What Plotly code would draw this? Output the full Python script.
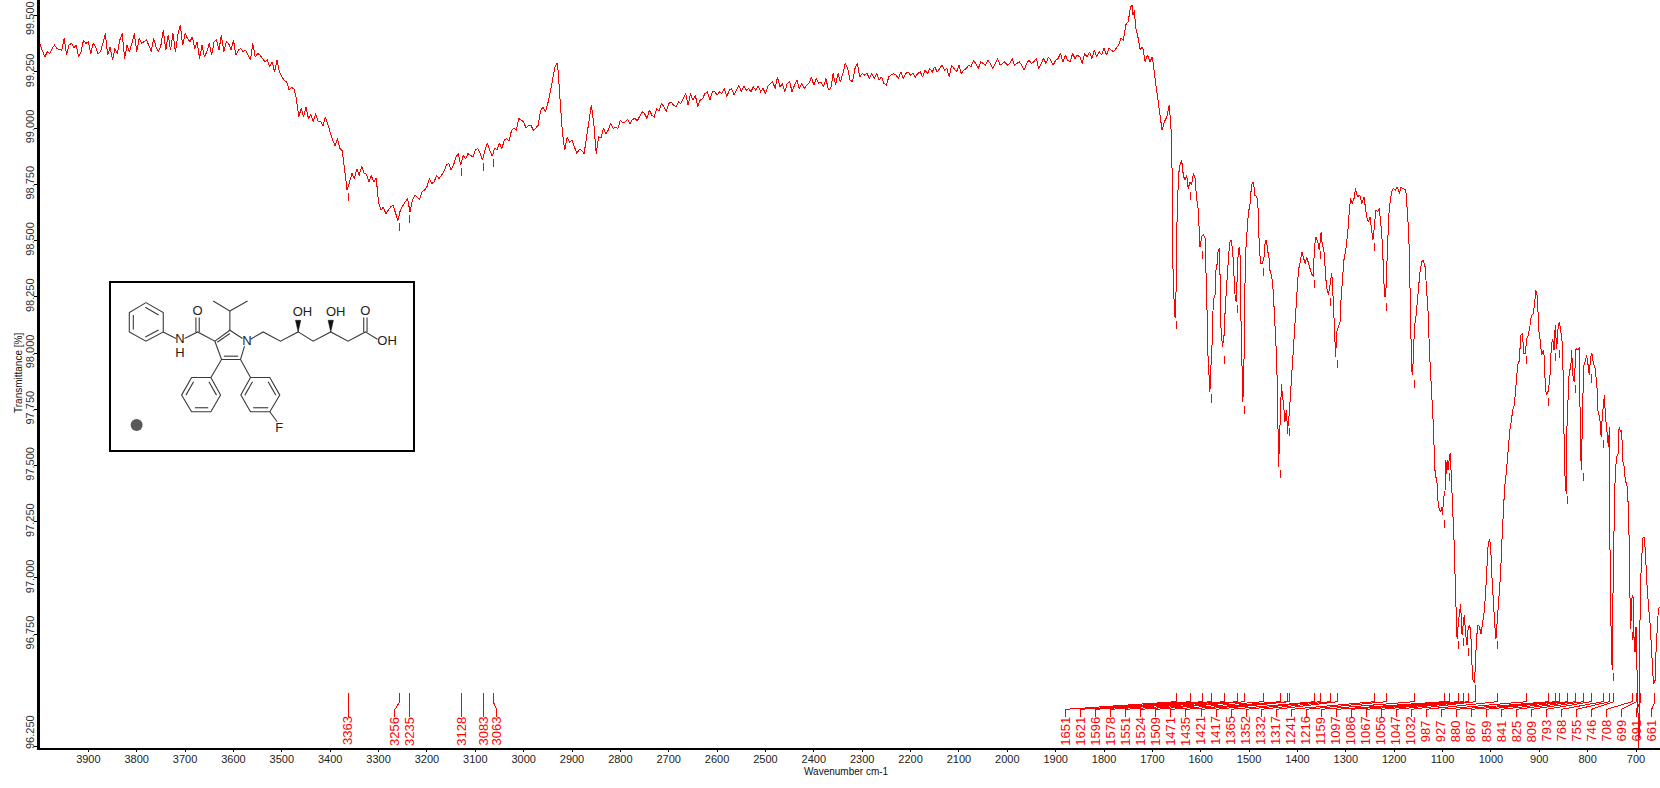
import plotly.graph_objects as go

# ---- spectrum, regular part: 4000 -> 1805 cm-1, every 5 cm-1 ----
t_regular = [
99.372,99.347,99.317,99.340,99.332,99.354,99.369,99.354,99.350,99.347,99.399,99.325,99.369,99.377,99.359,99.369,99.317,99.340,99.392,99.377,
99.384,99.332,99.377,99.362,99.332,99.340,99.377,99.421,99.325,99.362,99.303,99.354,99.332,99.392,99.421,99.310,99.369,99.340,99.377,99.421,
99.340,99.399,99.377,99.384,99.392,99.369,99.340,99.399,99.362,99.340,99.369,99.436,99.347,99.414,99.347,99.421,99.340,99.414,99.458,99.369,
99.421,99.399,99.384,99.406,99.354,99.384,99.310,99.369,99.317,99.340,99.377,99.325,99.384,99.392,99.347,99.414,99.340,99.384,99.377,99.347,
99.392,99.325,99.347,99.354,99.340,99.347,99.325,99.303,99.377,99.317,99.332,99.325,99.310,99.295,99.303,99.273,99.295,99.251,99.303,99.251,
99.228,99.213,99.206,99.170,99.181,99.176,99.132,99.050,99.088,99.050,99.095,99.043,99.060,99.030,99.065,99.030,99.030,99.010,99.050,99.020,
98.980,98.950,98.920,98.955,98.910,98.900,98.800,98.724,98.760,98.800,98.775,98.820,98.790,98.830,98.800,98.795,98.760,98.790,98.760,98.780,
98.672,98.635,98.650,98.620,98.635,98.650,98.657,98.620,98.590,98.635,98.657,98.672,98.687,98.628,98.680,98.702,98.694,98.684,98.717,98.724,
98.739,98.776,98.754,98.761,98.791,98.776,98.791,98.806,98.835,98.843,98.813,98.835,98.872,98.887,98.835,98.880,98.865,98.887,98.880,98.872,
98.902,98.910,98.887,98.858,98.902,98.932,98.902,98.875,98.910,98.905,98.932,98.910,98.947,98.954,98.944,98.991,99.000,98.991,99.043,99.036,
99.028,99.000,99.013,99.013,98.991,99.000,99.013,99.080,99.092,99.073,99.110,99.162,99.221,99.273,99.291,99.154,98.984,98.902,98.961,98.939,
98.947,98.917,98.887,98.906,98.902,98.887,98.961,99.013,99.102,99.021,98.887,98.961,98.958,99.000,98.976,98.991,99.021,99.000,99.003,99.000,
99.036,99.024,99.028,99.039,99.021,99.039,99.043,99.033,99.050,99.073,99.065,99.043,99.080,99.058,99.050,99.088,99.077,99.110,99.095,99.073,
99.110,99.117,99.102,99.095,99.117,99.110,99.132,99.154,99.102,99.154,99.125,99.147,99.095,99.125,99.132,99.154,99.162,99.125,99.162,99.162,
99.147,99.162,99.154,99.176,99.139,99.169,99.176,99.147,99.169,99.191,99.162,99.187,99.169,99.176,99.162,99.184,99.169,99.187,99.162,99.176,
99.154,99.187,99.199,99.206,99.176,99.228,99.184,99.199,99.162,99.199,99.206,99.162,99.191,99.214,99.176,99.199,99.176,99.191,99.199,99.228,
99.191,99.221,99.199,99.206,99.184,99.221,99.172,99.176,99.243,99.191,99.243,99.206,99.243,99.288,99.265,99.214,99.206,99.265,99.288,99.228,
99.243,99.236,99.243,99.221,99.243,99.221,99.243,99.214,99.228,99.199,99.191,99.228,99.236,99.243,99.236,99.221,99.250,99.221,99.243,99.250,
99.236,99.243,99.228,99.243,99.250,99.228,99.258,99.243,99.265,99.250,99.273,99.250,99.265,99.280,99.258,99.265,99.228,99.280,99.265,99.250,
99.280,99.243,99.258,99.265,99.280,99.273,99.300,99.288,99.265,99.295,99.288,99.280,99.302,99.288,99.265,99.288,99.310,99.280,99.288,99.295,
99.280,99.288,99.310,99.280,99.288,99.295,99.280,99.258,99.288,99.302,99.288,99.295,99.310,99.265,99.288,99.310,99.288,99.317,99.302,99.280,
99.302,99.310,99.332,99.295,99.325,99.302,99.295,99.332,99.310,99.325,99.317,99.288,99.332,99.317,99.340,99.310,99.347,99.317,99.340,99.325,
]

# ---- spectrum, band part: 1800 -> 650 cm-1 ----
wn_bands = [1800,1795,1790,1785,1780,1775,1770,1765,1760,1755,1750,1745,1741,1740,1737,1735,1730,1725,1720,1715,1710,1705,1700,1695,1690,1685,1680,1675,1670,1665,1660,1657,1655,1653,1651,1650,1646,1643,1639.5,1636,1633,1629,1626,1622,1619,1615,1612,1608.5,1605,1601.6,1598,1595,1591,1589,1587,1585,1583,1581,1579,1577,1574,1570.5,1568.5,1566,1564,1561.6,1560,1558,1555,1552,1549,1546.4,1544,1542,1539.5,1537,1534,1531,1528.5,1526,1524,1521.6,1519,1517.5,1515,1513,1511,1509,1506.4,1504,1501.6,1498,1495,1491,1488,1484,1481,1479,1476,1473,1469,1466.5,1464,1462,1459,1457,1453,1450,1448,1445,1443,1441,1439,1437,1435,1433,1431,1429,1426,1423,1421,1419,1417,1414,1412,1410,1407,1405,1403,1401,1398,1395,1391,1388,1384,1381,1377.5,1374,1371,1367,1365,1362,1358,1355,1351,1349,1345,1342,1340,1336,1333,1329,1326,1324,1321,1319,1315.5,1312,1310,1307,1304,1300,1298,1295,1293,1290,1287,1283,1280,1276,1271,1267,1262.4,1260,1257,1253.5,1250,1246.6,1244,1241,1238,1234,1231,1228,1225,1222.4,1220,1217.6,1215.6,1213.5,1211.4,1208,1205,1202,1197,1194,1189,1186,1181,1176,1173,1170,1168,1166,1164,1162,1160,1158,1155,1152,1149.4,1147,1143,1140,1136,1133,1130,1127,1125,1122,1119,1117,1115,1112,1110,1107,1104,1102,1100,1098,1095,1093,1091.5,1089,1088,1086,1084,1081,1078,1076,1073.6,1072,1070,1067,1064,1062.5,1060.5,1059,1057,1055,1052,1049.5,1047,1045,1042,1040,1038,1034,1032,1029.5,1027,1024,1020.5,1017,1014,1011.5,1009,1006,1003,1000.5,998,995,992,989.5,987,984,980,977,974,971.6,968,965,961,958,955,951.6,947.4,944.7,941,938.5,935,931.6,929,926,923,920,916.4,912,909.5,907,904,901,898.5,895,892,889.5,887.5,885,881,878,875,872,869.5,867,864,861,858.5,855.8,853.7,851.6,850,848,846,844,842.6,840,838,835,833,831,828,826,824,820,817,815,813,810,808,805,802,798.5,796.5,794,791,788,785,781,778.5,775,772,770,767.5,765.5,763,760,757,755,754,751,749,747,745,743,740,737,735,732,729.6,727.5,725,722,718,715,713,711,708,706,704,702,700,697,694,691.6,689.5,686,683,680.5,678,674,671,667.4,664,660.5,658.5,653.7,650]
t_bands = [99.355,99.325,99.355,99.348,99.340,99.355,99.370,99.400,99.392,99.459,99.474,99.540,99.548,99.503,99.525,99.451,99.407,99.348,99.362,99.296,99.325,99.296,99.318,99.229,99.155,99.066,98.992,99.029,99.051,99.103,98.950,98.309,98.200,98.154,98.280,98.517,98.791,98.836,98.858,98.791,98.769,98.791,98.732,98.762,98.748,98.799,98.784,98.688,98.636,98.472,98.517,98.527,98.510,98.376,98.191,97.990,97.864,97.827,97.939,98.013,98.235,98.257,98.369,98.398,98.458,98.465,98.339,98.102,98.028,98.072,98.213,98.302,98.421,98.443,98.495,98.502,98.458,98.339,98.235,98.228,98.398,98.465,98.472,98.220,97.946,97.783,97.879,98.272,98.472,98.569,98.621,98.665,98.747,98.762,98.702,98.695,98.636,98.472,98.398,98.398,98.428,98.502,98.502,98.458,98.428,98.369,98.339,98.272,98.198,98.094,97.976,97.775,97.494,97.627,97.798,97.864,97.805,97.783,97.694,97.746,97.679,97.679,97.731,97.827,97.909,97.998,98.080,98.146,98.198,98.280,98.369,98.398,98.450,98.428,98.398,98.428,98.398,98.369,98.354,98.339,98.472,98.517,98.495,98.458,98.539,98.487,98.450,98.354,98.295,98.258,98.295,98.354,98.235,98.102,97.983,98.094,98.117,98.139,98.235,98.354,98.413,98.458,98.495,98.561,98.628,98.688,98.665,98.688,98.732,98.695,98.702,98.665,98.695,98.650,98.606,98.584,98.606,98.547,98.502,98.561,98.636,98.628,98.643,98.584,98.502,98.383,98.250,98.250,98.376,98.495,98.606,98.680,98.717,98.732,98.725,98.739,98.710,98.736,98.732,98.725,98.636,98.539,98.369,98.124,97.931,97.901,98.005,98.117,98.161,98.250,98.317,98.354,98.406,98.413,98.383,98.294,98.183,98.005,97.931,97.842,97.679,97.545,97.449,97.449,97.353,97.308,97.293,97.316,97.279,97.353,97.382,97.523,97.464,97.523,97.479,97.538,97.556,97.405,97.271,97.152,96.967,96.811,96.730,96.811,96.871,96.885,96.760,96.745,96.811,96.833,96.745,96.700,96.782,96.789,96.774,96.618,96.552,96.533,96.648,96.737,96.789,96.785,96.752,96.797,96.848,96.915,97.056,97.138,97.175,97.138,97.011,96.878,96.789,96.730,96.797,96.900,97.019,97.175,97.286,97.405,97.471,97.553,97.657,97.694,97.746,97.768,97.857,97.946,97.968,98.079,98.087,97.998,97.998,98.064,98.079,98.109,98.168,98.176,98.228,98.280,98.250,98.102,98.064,97.990,98.013,97.983,97.842,97.812,97.835,97.894,98.035,98.064,98.013,98.124,98.020,98.116,98.139,98.109,98.072,98.020,97.760,97.523,97.405,97.375,97.686,97.820,97.924,97.931,98.013,97.909,97.872,97.938,98.020,98.013,98.027,97.590,97.479,97.790,97.946,97.961,97.990,97.938,97.901,97.983,97.998,97.953,97.938,97.864,97.738,97.716,97.627,97.709,97.768,97.812,97.716,97.657,97.582,97.671,97.167,96.670,96.589,97.056,97.316,97.464,97.538,97.553,97.671,97.649,97.657,97.523,97.501,97.434,97.405,97.271,96.974,96.774,96.923,96.916,96.722,96.670,96.782,96.485,96.230,96.842,97.035,97.175,97.183,97.116,96.990,96.871,96.797,96.664,96.530,96.545,96.679,96.864,96.871]

# ---- picked peaks ----
peak_wn = [3363,3256,3235,3128,3083,3063,1651,1621,1596,1578,1551,1524,1509,1471,1435,1421,1417,1365,1352,1332,1317,1241,1216,1159,1097,1086,1067,1056,1047,1032,987,927,880,867,859,841,825,809,793,768,755,746,708,699,691,661]
peak_t = [98.724,98.590,98.628,98.835,98.858,98.875,98.154,98.729,98.465,97.828,97.998,98.228,97.777,98.391,97.494,97.690,97.680,98.339,98.466,98.258,97.983,98.502,98.235,97.894,97.272,97.479,96.733,96.744,96.700,96.538,96.733,98.000,97.813,98.013,98.026,97.375,97.871,97.479,97.917,97.626,97.660,96.589,96.774,None,None,None]
left_label_wn = [3363,3266,3235,3128,3083,3056]

x_ticks = list(range(3900, 600, -100))
y_ticks = [99.5,99.25,99.0,98.75,98.5,98.25,98.0,97.75,97.5,97.25,97.0,96.75,96.25]

RED = "#ff0000"
FONT = "Liberation Sans"
W, H = 1660, 788
L, B = 40, 40
X_RANGE = [4000, 650.4]
Y_RANGE = [96.244, 99.57]
LABEL_START, LABEL_STEP = 1879, 31.06   # fan-out slots of the right-hand label group
T_TOP, T_BEND1, T_BEND2, T_LAB, T_TEXT = 96.487, 96.450, 96.416, 96.381, 96.320

wn_regular = list(range(4000, 4000 - 5 * len(t_regular), -5))
fig = go.Figure()
fig.add_trace(go.Scatter(x=wn_regular + wn_bands, y=t_regular + t_bands, mode="lines",
                         line=dict(color=RED, width=1), hoverinfo="skip", showlegend=False))

# short pick marks under each peak
dx, dy = [], []
for w, t in zip(peak_wn, peak_t):
    if t is not None:
        dx += [w, w, None]
        dy += [t - 0.012, t - 0.048, None]
fig.add_trace(go.Scatter(x=dx, y=dy, mode="lines", line=dict(color=RED, width=1),
                         hoverinfo="skip", showlegend=False))

# connectors and rotated labels
annotations = []
cx, cy = [], []
for i, w in enumerate(peak_wn):
    lab = left_label_wn[i] if i < len(left_label_wn) else LABEL_START - (i - len(left_label_wn)) * LABEL_STEP
    cx += [w, w, lab, lab, None]
    cy += [T_TOP, T_BEND1, T_BEND2, T_LAB, None]
    annotations.append(dict(x=lab, y=T_TEXT, text=str(w), textangle=-90, showarrow=False,
                            xanchor="center", yanchor="middle",
                            font=dict(family=FONT, size=13, color=RED)))
fig.add_trace(go.Scatter(x=cx, y=cy, mode="lines", line=dict(color=RED, width=1),
                         hoverinfo="skip", showlegend=False))

# ---- inset: structure drawing ----
bonds = [
 [(138,97),(190,127),(190,185),(138,213),(88,185),(88,127),(138,97)],
 [(136,111),(176,134)], [(176,179),(136,200)], [(100,178),(100,134)],
 [(190,185),(228,205)], [(254,205),(293,185),(345,213),(390,180),(428,205)],
 [(288,185),(288,142)], [(298,185),(298,142)],
 [(352,216),(390,190)], [(345,213),(365,268),(422,268),(434,228)], [(372,258),(415,258)],
 [(390,180),(390,122),(340,92)], [(390,122),(443,92)],
 [(452,207),(490,185),(542,213),(595,185),(640,213),(693,185),(745,213),(797,185),(833,207)],
 [(792,185),(792,142)], [(802,185),(802,142)],
 [(365,268),(333,322)],
 [(333,322),(275,322),(245,375),(275,425),(333,425),(362,375),(333,322)],
 [(258,375),(281,335)], [(285,413),(325,413)], [(350,375),(327,335)],
 [(422,268),(452,322)],
 [(452,322),(510,322),(540,375),(510,425),(452,425),(423,375),(452,322)],
 [(435,375),(458,335)], [(505,335),(528,375)], [(460,413),(505,413)],
 [(510,425),(532,455)],
]
wedges = [[(595,185),(587,150),(603,150),(595,185)], [(693,185),(685,150),(701,150),(693,185)]]
atoms = [("N",240,210),("H",240,252),("O",293,125),("N",441,215),("OH",608,127),("OH",708,127),
         ("O",797,125),("OH",862,215),("F",538,477)]

bx, by = [], []
for b in bonds:
    bx += [p[0] for p in b] + [None]
    by += [p[1] for p in b] + [None]
fig.add_trace(go.Scatter(x=bx, y=by, mode="lines", line=dict(color="#3a3a3a", width=1.1),
                         xaxis="x2", yaxis="y2", hoverinfo="skip", showlegend=False))
for wd in wedges:
    fig.add_trace(go.Scatter(x=[p[0] for p in wd], y=[p[1] for p in wd], mode="lines", fill="toself",
                             fillcolor="#111111", line=dict(color="#111111", width=0.5),
                             xaxis="x2", yaxis="y2", hoverinfo="skip", showlegend=False))
fig.add_trace(go.Scatter(x=[a[1] for a in atoms], y=[a[2] for a in atoms], text=[a[0] for a in atoms],
                         mode="text", textfont=dict(family=FONT, size=13, color="#222222"),
                         xaxis="x2", yaxis="y2", hoverinfo="skip", showlegend=False))
fig.add_trace(go.Scatter(x=[110], y=[465], mode="markers",
                         marker=dict(size=12, color="#5a5a5a"),
                         xaxis="x2", yaxis="y2", hoverinfo="skip", showlegend=False))

def px_x(p):
    return (p - L) / (W - L)

def px_y(p):
    return (H - B - p) / (H - B)

# the two end labels of the frame height are placed by hand so they stay inside it
for txt, py in (("99.500", 18), ("96.250", 732)):
    annotations.append(dict(xref="paper", yref="paper", x=px_x(30), y=px_y(py), text=txt, textangle=-90,
                            showarrow=False, xanchor="center", yanchor="middle",
                            font=dict(family=FONT, size=11, color="#333333")))
annotations.append(dict(xref="paper", yref="paper", x=px_x(846), y=px_y(771), text="Wavenumber cm-1",
                        showarrow=False, xanchor="center", yanchor="middle",
                        font=dict(family=FONT, size=10, color="#111111")))
annotations.append(dict(xref="paper", yref="paper", x=px_x(18), y=px_y(373), text="Transmittance [%]",
                        textangle=-90, showarrow=False, xanchor="center", yanchor="middle",
                        font=dict(family=FONT, size=10, color="#111111")))

fig.update_layout(
    width=W, height=H, autosize=False, margin=dict(l=L, r=0, t=0, b=B),
    paper_bgcolor="white", plot_bgcolor="white", showlegend=False,
    annotations=annotations,
    shapes=[dict(type="rect", xref="paper", yref="paper", x0=px_x(110), x1=px_x(414), y0=px_y(451), y1=px_y(282),
                 line=dict(color="black", width=2))],
    xaxis=dict(range=X_RANGE, tickvals=x_ticks, ticktext=[str(v) for v in x_ticks], ticks="outside", ticklen=2,
               tickcolor="black", showgrid=False, zeroline=False, showline=True, linecolor="black", linewidth=2,
               tickfont=dict(family=FONT, size=11, color="#222222"), ticklabelstandoff=-2),
    yaxis=dict(range=Y_RANGE, tickvals=y_ticks,
               ticktext=["%.3f" % v if v not in (96.25, 99.5) else "" for v in y_ticks],
               ticks="outside", ticklen=3, tickcolor="black", tickangle=-90, showgrid=False, zeroline=False,
               showline=True, linecolor="black", linewidth=3, ticklabelstandoff=-4,
               tickfont=dict(family=FONT, size=11, color="#333333")),
    xaxis2=dict(domain=[px_x(110), px_x(414)], range=[30, 943], anchor="y2", visible=False),
    yaxis2=dict(domain=[px_y(451), px_y(282)], range=[543, 35], anchor="x2", visible=False),
)
page_script = """
document.documentElement.style.margin = '0';
document.body.style.margin = '0';
document.body.style.overflow = 'hidden';
var s = document.createElement('style');
s.textContent = '.subplot.xy .scatterlayer path.js-line{shape-rendering:crispEdges}';
document.head.appendChild(s);
"""
fig.write_html("out.html", post_script=page_script, config=dict(displayModeBar=False))
